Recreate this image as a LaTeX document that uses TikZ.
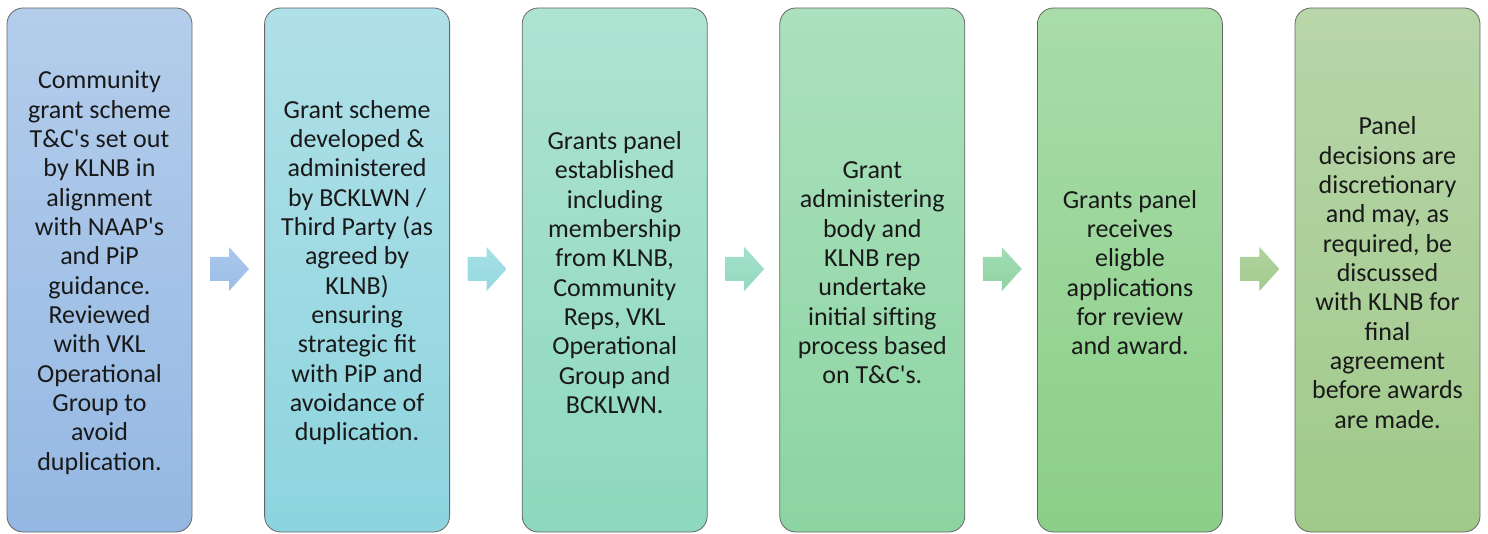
\documentclass[tikz,border=0pt]{standalone}
\usepackage{fontspec}
\setmainfont{Carlito}
\definecolor{c1t}{HTML}{B4CDEB}\definecolor{c1b}{HTML}{94B8E3}
\definecolor{c2t}{HTML}{B0E0E8}\definecolor{c2b}{HTML}{8DD4DE}
\definecolor{c3t}{HTML}{AEE3D2}\definecolor{c3b}{HTML}{8DD8BE}
\definecolor{c4t}{HTML}{ABE1BE}\definecolor{c4b}{HTML}{8CD4A1}
\definecolor{c5t}{HTML}{A9DCA9}\definecolor{c5b}{HTML}{8BCF88}
\definecolor{c6t}{HTML}{B8D6A9}\definecolor{c6b}{HTML}{A0C98A}
\definecolor{a1t}{HTML}{AAC8EC}\definecolor{a1b}{HTML}{9BBDE6}
\definecolor{a2t}{HTML}{A6E0E6}\definecolor{a2b}{HTML}{96D8E0}
\definecolor{a3t}{HTML}{A3E0CB}\definecolor{a3b}{HTML}{93D9BF}
\definecolor{a4t}{HTML}{A1DDB5}\definecolor{a4b}{HTML}{90D3A2}
\definecolor{a5t}{HTML}{A2D9A2}\definecolor{a5b}{HTML}{93D190}
\definecolor{a6t}{HTML}{B0D39F}\definecolor{a6b}{HTML}{A3CB8E}
\newcommand\blockarr[3]{%
  \path[top color=#2,bottom color=#3] (#1,257) -- ({#1+19},257) -- ({#1+19},247) -- ({#1+39},269) -- ({#1+19},291) -- ({#1+19},281) -- (#1,281) -- cycle;}
\newcommand\q{\textquotesingle}
\begin{document}
\begin{tikzpicture}[x=0.75pt,y=-0.75pt,
  stepbox/.style={draw=black!60, line width=0.6pt, rounded corners=12pt,
    minimum width=138.75pt, minimum height=393pt, inner sep=0pt},
  steptext/.style={align=center, font=\fontsize{19.5}{22}\selectfont,
    inner sep=0pt, text=black!90}]
\useasboundingbox (0,0) rectangle (1488,534);
\node[stepbox, top color=c1t, bottom color=c1b] (b1) at (99.5,270) {};
\node[stepbox, top color=c2t, bottom color=c2b] (b2) at (357.1,270) {};
\node[stepbox, top color=c3t, bottom color=c3b] (b3) at (614.7,270) {};
\node[stepbox, top color=c4t, bottom color=c4b] (b4) at (872.3,270) {};
\node[stepbox, top color=c5t, bottom color=c5b] (b5) at (1129.9,270) {};
\node[stepbox, top color=c6t, bottom color=c6b] (b6) at (1387.5,270) {};
\node[steptext] (t1) at ([yshift=-2pt]b1.center) {Community\\grant scheme\\T\&C\q s set out\\by KLNB in\\alignment\\with NAAP\q s\\and PiP\\guidance.\\Reviewed\\with VKL\\Operational\\Group to\\avoid\\duplication.};
\node[steptext] (t2) at ([yshift=-2pt]b2.center) {Grant scheme\\developed \&\\administered\\by BCKLWN /\\Third Party (as\\agreed by\\KLNB)\\ensuring\\strategic fit\\with PiP and\\avoidance of\\duplication.};
\node[steptext] (t3) at ([yshift=-2pt]b3.center) {Grants panel\\established\\including\\membership\\from KLNB,\\Community\\Reps, VKL\\Operational\\Group and\\BCKLWN.};
\node[steptext] (t4) at ([yshift=-2pt]b4.center) {Grant\\administering\\body and\\KLNB rep\\undertake\\initial sifting\\process based\\on T\&C\q s.};
\node[steptext] (t5) at ([yshift=-2pt]b5.center) {Grants panel\\receives\\eligble\\applications\\for review\\and award.};
\node[steptext] (t6) at ([yshift=-2pt]b6.center) {Panel\\decisions are\\discretionary\\and may, as\\required, be\\discussed\\with KLNB for\\final\\agreement\\before awards\\are made.};
\blockarr{210}{a1t}{a1b}
\blockarr{467.6}{a2t}{a2b}
\blockarr{725.2}{a3t}{a3b}
\blockarr{982.8}{a4t}{a4b}
\blockarr{1240.4}{a6t}{a6b}
\end{tikzpicture}
\end{document}
